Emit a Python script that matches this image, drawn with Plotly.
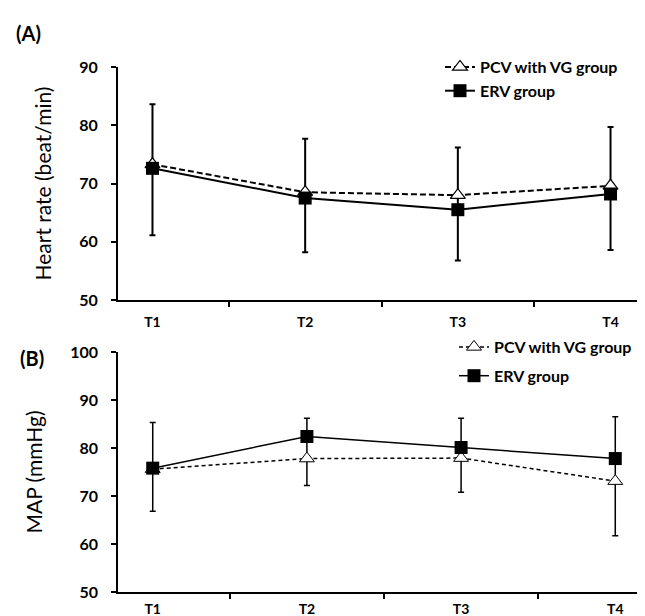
import plotly.graph_objects as go
from plotly.subplots import make_subplots

times = ["T1", "T2", "T3", "T4"]
hr_pcv = [73.3, 68.5, 68.0, 69.6]
hr_erv = [72.6, 67.5, 65.5, 68.2]
hr_err_top = [83.6, 77.7, 76.2, 79.7]
hr_err_bottom = [61.1, 58.2, 56.8, 58.6]
map_pcv = [75.6, 77.8, 77.9, 73.1]
map_erv = [75.8, 82.4, 80.1, 77.8]
map_err_top = [85.3, 86.2, 86.2, 86.5]
map_err_bottom = [66.8, 72.2, 70.8, 61.7]

W, H = 645, 616
ML, MR, MT, MB = 110, 3, 59, 32
PW, PH = W - ML - MR, H - MT - MB

def px_x(px):
    return (px - ML) / PW

def px_y(py):
    return (H - MB - py) / PH

fig = make_subplots(rows=2, cols=1)

font_fam = "Lato, Open Sans, sans-serif"

# Panel A
fig.add_trace(go.Scatter(
    x=times, y=hr_pcv, name="PCV with VG group", mode="lines+markers",
    line=dict(color="black", width=2, dash="6px,3px"),
    marker=dict(symbol="triangle-up", size=13, color="white", line=dict(color="black", width=1.2)),
    error_y=dict(type="data", symmetric=False,
                 array=[t - v for t, v in zip(hr_err_top, hr_pcv)],
                 arrayminus=[v - b for v, b in zip(hr_pcv, hr_err_bottom)],
                 color="black", thickness=2, width=3),
    legend="legend", legendgroup="a1",
), row=1, col=1)
fig.add_trace(go.Scatter(
    x=times, y=hr_erv, name="ERV group", mode="lines+markers",
    line=dict(color="black", width=2),
    marker=dict(symbol="square", size=13, color="black"),
    legend="legend", legendgroup="a2",
), row=1, col=1)

# Panel B
fig.add_trace(go.Scatter(
    x=times, y=map_pcv, name="PCV with VG group", mode="lines+markers",
    line=dict(color="black", width=1.5, dash="4px,3px"),
    marker=dict(symbol="triangle-up", size=13, color="white", line=dict(color="black", width=1)),
    error_y=dict(type="data", symmetric=False,
                 array=[t - v for t, v in zip(map_err_top, map_pcv)],
                 arrayminus=[v - b for v, b in zip(map_pcv, map_err_bottom)],
                 color="black", thickness=1.5, width=3),
    legend="legend2", legendgroup="b1",
), row=2, col=1)
fig.add_trace(go.Scatter(
    x=times, y=map_erv, name="ERV group", mode="lines+markers",
    line=dict(color="black", width=1.5),
    marker=dict(symbol="square", size=13, color="black"),
    legend="legend2", legendgroup="b2",
), row=2, col=1)

axis_common = dict(showgrid=False, zeroline=False, showline=True, linecolor="black",
                   ticks="outside", ticklen=5, tickcolor="black")

fig.update_xaxes(**axis_common, tickson="boundaries", linewidth=2, tickwidth=2,
                 tickfont=dict(family=font_fam, size=14, color="black", weight="bold"))
fig.update_xaxes(domain=[0, px_x(637)], ticklabelstandoff=8, row=1, col=1)
fig.update_xaxes(domain=[0, px_x(642)], ticklabelstandoff=3, linewidth=1.5, tickwidth=1.5, row=2, col=1)

fig.update_yaxes(**axis_common, ticklabelstandoff=10,
                 tickfont=dict(family=font_fam, size=16, color="black", weight="bold"),
                 title_font=dict(family=font_fam, size=21, color="black"))
fig.update_yaxes(domain=[px_y(292), 1], range=[50, 90], dtick=10, linewidth=2, tickwidth=2,
                 title_text="Heart rate (beat/min)", title_standoff=22, row=1, col=1)
fig.update_yaxes(domain=[0, px_y(344)], range=[50, 100], dtick=10, linewidth=1.5, tickwidth=1.5,
                 title_text="MAP (mmHg)", title_standoff=22, row=2, col=1)

legend_font = dict(family=font_fam, size=16, color="black", weight="bold")
fig.update_layout(
    width=W, height=H,
    margin=dict(l=ML, r=MR, t=MT, b=MB),
    paper_bgcolor="white", plot_bgcolor="white",
    showlegend=True,
    legend=dict(x=px_x(432), y=px_y(42), xanchor="left", yanchor="top",
                font=legend_font, itemwidth=30, tracegroupgap=0,
                bgcolor="rgba(0,0,0,0)"),
    legend2=dict(x=px_x(446), y=px_y(322), xanchor="left", yanchor="top",
                 font=legend_font, itemwidth=30, tracegroupgap=5,
                 bgcolor="rgba(0,0,0,0)"),
    annotations=[
        dict(text="<b>(A)</b>", x=px_x(6), y=px_y(25), xref="paper", yref="paper",
             xanchor="left", yanchor="middle", showarrow=False,
             font=dict(family=font_fam, size=20, color="black")),
        dict(text="<b>(B)</b>", x=px_x(10), y=px_y(350), xref="paper", yref="paper",
             xanchor="left", yanchor="middle", showarrow=False,
             font=dict(family=font_fam, size=20, color="black")),
    ],
)

fig.write_html("out.html")
